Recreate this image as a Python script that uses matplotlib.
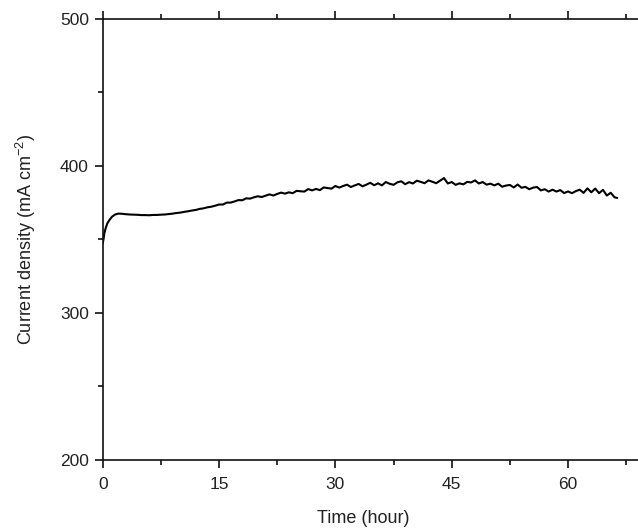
import matplotlib
matplotlib.use("Agg")
import matplotlib.pyplot as plt
from matplotlib.ticker import MultipleLocator

plt.rcParams['font.family'] = ['Liberation Sans', 'DejaVu Sans']
plt.rcParams['mathtext.default'] = 'regular'

# Time (hour)
time_h = [0.0, 0.1, 0.2, 0.4, 0.6, 0.9, 1.2, 1.6, 2.0, 2.5,
          3.0, 3.5, 4.0, 4.5, 5.0, 5.5, 6.0, 6.5, 7.0, 7.5,
          8.0, 8.5, 9.0, 9.5, 10.0, 10.5, 11.0, 11.5, 12.0, 12.5,
          13.0, 13.5, 14.0, 14.5, 15.0, 15.5, 16.0, 16.5, 17.0, 17.5,
          18.0, 18.5, 19.0, 19.5, 20.0, 20.5, 21.0, 21.5, 22.0, 22.5,
          23.0, 23.5, 24.0, 24.5, 25.0, 25.5, 26.0, 26.5, 27.0, 27.5,
          28.0, 28.5, 29.0, 29.5, 30.0, 30.5, 31.0, 31.5, 32.0, 32.5,
          33.0, 33.5, 34.0, 34.5, 35.0, 35.5, 36.0, 36.5, 37.0, 37.5,
          38.0, 38.5, 39.0, 39.5, 40.0, 40.5, 41.0, 41.5, 42.0, 42.5,
          43.0, 43.5, 44.0, 44.5, 45.0, 45.5, 46.0, 46.5, 47.0, 47.5,
          48.0, 48.5, 49.0, 49.5, 50.0, 50.5, 51.0, 51.5, 52.0, 52.5,
          53.0, 53.5, 54.0, 54.5, 55.0, 55.5, 56.0, 56.5, 57.0, 57.5,
          58.0, 58.5, 59.0, 59.5, 60.0, 60.5, 61.0, 61.5, 62.0, 62.5,
          63.0, 63.5, 64.0, 64.5, 65.0, 65.5, 66.0, 66.3]

# Current density (mA cm^-2)
current_density = [347.5, 350.0, 354.0, 358.0, 361.0, 363.5, 365.5, 367.0, 367.6, 367.5,
                   367.2, 367.0, 366.9, 366.8, 366.6, 366.6, 366.5, 366.7, 366.7, 366.9,
                   367.0, 367.3, 367.6, 368.0, 368.3, 368.8, 369.2, 369.7, 370.1, 370.8,
                   371.2, 371.9, 372.3, 373.0, 373.8, 373.8, 375.1, 375.1, 375.9, 376.8,
                   376.7, 378.0, 377.8, 378.7, 379.4, 378.9, 379.8, 380.7, 379.9, 381.0,
                   381.9, 381.2, 382.1, 381.5, 383.1, 382.8, 382.6, 384.3, 383.4, 384.4,
                   383.6, 385.4, 385.0, 384.6, 386.4, 385.3, 386.4, 387.3, 385.7, 386.8,
                   387.8, 386.2, 387.3, 388.6, 386.9, 388.2, 386.8, 389.1, 387.9, 387.2,
                   388.9, 389.6, 387.6, 389.0, 388.1, 390.0, 389.2, 388.3, 390.2, 389.3,
                   388.3, 390.0, 391.8, 388.1, 389.1, 387.2, 388.2, 387.5, 389.2, 388.8,
                   390.2, 388.1, 389.1, 387.3, 388.0, 386.8, 388.0, 385.9, 386.7, 387.1,
                   385.4, 387.4, 385.2, 385.8, 384.2, 385.3, 385.7, 383.4, 384.2, 382.6,
                   383.9, 382.6, 383.6, 381.6, 382.7, 381.5, 382.9, 383.9, 381.7, 384.8,
                   382.1, 384.7, 381.5, 383.8, 379.9, 381.8, 378.7, 378.3]

x_ticks = [0, 15, 30, 45, 60]
y_ticks = [200, 300, 400, 500]

fig = plt.figure(figsize=(6.38, 5.28), dpi=100)
W, H = 638, 528
left_px, right_px, top_px, bottom_px = 102.7, 645.6, 19, 460
ax = fig.add_axes([left_px / W, 1 - bottom_px / H,
                   (right_px - left_px) / W, (bottom_px - top_px) / H])

ax.plot(time_h, current_density, color='black', lw=1.5)

ax.set_xlim(0, 70)
ax.set_ylim(200, 500)
ax.set_xticks(x_ticks)
ax.set_yticks(y_ticks)
ax.xaxis.set_minor_locator(MultipleLocator(7.5))
ax.yaxis.set_minor_locator(MultipleLocator(50))

for s in ['left', 'bottom', 'top']:
    ax.spines[s].set_linewidth(1.2)
    ax.spines[s].set_color('#111111')
ax.spines['right'].set_visible(False)

ax.tick_params(which='both', direction='out', top=True, right=False,
               width=1.2, color='#111111', labelsize=12.5, labelcolor='#222222')
ax.tick_params(which='major', length=6)
ax.tick_params(which='minor', length=3.5)
ax.tick_params(axis='x', which='major', pad=6)
ax.tick_params(axis='y', which='major', pad=4)

ax.set_xlabel('Time (hour)', fontsize=13, color='#222222')
ax.set_ylabel('Current density (mA cm$^{-2}$)', fontsize=13, color='#222222')
ax.xaxis.set_label_coords((363 - left_px) / (right_px - left_px),
                          -(510 - bottom_px) / (bottom_px - top_px))
ax.yaxis.set_label_coords(-(left_px - 38) / (right_px - left_px), 0.5)

fig.savefig('out.png', dpi=100)
